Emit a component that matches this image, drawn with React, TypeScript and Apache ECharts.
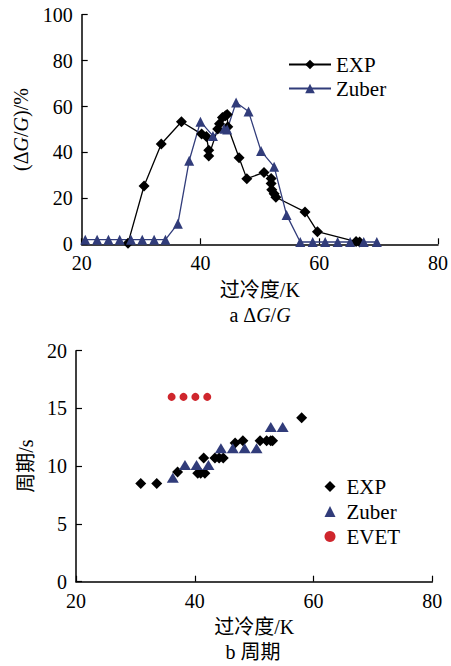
import React, { useEffect, useRef } from "react";
import * as echarts from "echarts";

const FONT = "Liberation Serif, Noto Sans CJK SC, serif";

// Top panel: ΔG/G (%) vs subcooling (K)
const topExp: [number, number][] = [
  [27.8, 0.5], [30.5, 25.4], [33.4, 43.7], [36.8, 53.4], [40.2, 48.0], [41.0, 47.0],
  [41.4, 41.0], [41.4, 38.5], [42.9, 50.2], [43.2, 52.5], [43.7, 55.2], [44.2, 56.0],
  [44.5, 56.5], [44.6, 51.2], [46.5, 37.7], [47.8, 28.6], [50.7, 31.3], [51.9, 28.7],
  [51.9, 26.5], [52.0, 23.8], [52.4, 22.0], [52.7, 20.5], [57.6, 14.1], [59.7, 5.5],
  [66.2, 1.2], [66.8, 1.0],
];
const topZuber: [number, number][] = [
  [20.6, 2], [22.6, 2], [24.5, 2], [26.4, 2], [28.3, 2], [30.2, 2], [32.2, 2], [34.1, 2],
  [36.2, 9], [38.1, 36.4], [40.0, 53.4], [42.1, 47.2], [44.0, 50.3], [44.5, 50.0],
  [46.0, 61.8], [48.1, 57.8], [50.2, 40.6], [52.4, 33.8], [54.5, 12.8], [56.8, 1],
  [58.9, 1], [61.0, 1], [63.1, 1], [65.2, 1], [67.5, 1], [69.7, 1],
];

// Bottom panel: period (s) vs subcooling (K)
const botExp: [number, number][] = [
  [30.9, 8.5], [33.6, 8.5], [37.1, 9.5], [40.5, 9.4], [41.0, 9.4], [41.7, 9.4],
  [41.5, 10.7], [43.4, 10.7], [44.1, 10.7], [44.8, 10.7], [46.8, 12.0], [48.1, 12.2],
  [51.0, 12.2], [52.1, 12.2], [52.8, 12.2], [53.1, 12.2], [58.0, 14.2],
];
const botZuber: [number, number][] = [
  [36.3, 9.0], [38.35, 10.1], [40.3, 10.1], [42.3, 10.1], [44.4, 11.55], [46.4, 11.55],
  [48.4, 11.55], [50.4, 11.55], [52.8, 13.4], [54.8, 13.4],
];
const botEvet: [number, number][] = [
  [36.1, 16], [38.1, 16], [40.1, 16], [42.1, 16],
];

const xName = "过冷度/K";
const topYName = "(Δ{i|G}/{i|G})/%";
const botYName = "周期/s";
const captionA = "{n|a Δ}{i|G}{n|/}{i|G}";
const captionB = "b 周期";

const NAVY = "#313c7a";
const RED = "#cf262d";

export default function App() {
  const ref = useRef<HTMLDivElement>(null);
  useEffect(() => {
    document.body.style.margin = "0";
    const chart = echarts.init(ref.current!, undefined, { renderer: "svg" });
    const axisCommon = {
      axisLine: { lineStyle: { color: "#000", width: 1.5 } },
      axisTick: { inside: true, length: 6, lineStyle: { color: "#000", width: 1.2 } },
      axisLabel: { color: "#000", fontFamily: FONT, fontSize: 20, margin: 9 },
      splitLine: { show: false },
      nameTextStyle: {
        color: "#000", fontFamily: FONT, fontSize: 20,
        rich: { i: { fontStyle: "italic", fontFamily: FONT, fontSize: 20, color: "#000" } },
      },
    };
    chart.setOption({
      animation: false,
      backgroundColor: "#fff",
      textStyle: { fontFamily: FONT },
      grid: [
        { left: 81.7, top: 14.7, width: 357.3, height: 229.6 },
        { left: 76, top: 350.7, width: 356.3, height: 231 },
      ],
      xAxis: [
        { ...axisCommon, type: "value", gridIndex: 0, min: 20, max: 80, interval: 20,
          name: xName, nameLocation: "middle", nameGap: 36 },
        { ...axisCommon, type: "value", gridIndex: 1, min: 20, max: 80, interval: 20,
          name: xName, nameLocation: "middle", nameGap: 35 },
      ],
      yAxis: [
        { ...axisCommon, type: "value", gridIndex: 0, min: 0, max: 100, interval: 20,
          name: topYName, nameLocation: "middle", nameGap: 51 },
        { ...axisCommon, type: "value", gridIndex: 1, min: 0, max: 20, interval: 5,
          name: botYName, nameLocation: "middle", nameGap: 40 },
      ],
      legend: [
        {
          data: ["EXP", "Zuber"], orient: "vertical", left: 283, top: 49,
          itemWidth: 42, itemHeight: 12, itemGap: 3,
          textStyle: { fontFamily: FONT, fontSize: 21, lineHeight: 21, color: "#000" },
        },
        {
          data: [
            { name: "EXP " },
            { name: "Zuber " },
            { name: "EVET" },
          ],
          orient: "vertical", left: 319.5, top: 471,
          itemWidth: 11, itemHeight: 11, itemGap: 4,
          formatter: (n: string) => n.trim(),
          textStyle: { fontFamily: FONT, fontSize: 21, lineHeight: 21, color: "#000", padding: [0, 0, 0, 6] },
        },
      ],
      series: [
        {
          name: "EXP", type: "line", xAxisIndex: 0, yAxisIndex: 0, data: topExp,
          symbol: "diamond", symbolSize: 11, color: "#000",
          lineStyle: { color: "#000", width: 1.3 }, itemStyle: { color: "#000" },
        },
        {
          name: "Zuber", type: "line", xAxisIndex: 0, yAxisIndex: 0, data: topZuber,
          symbol: "triangle", symbolSize: 10, color: NAVY,
          lineStyle: { color: NAVY, width: 1.3 }, itemStyle: { color: NAVY },
        },
        {
          name: "EXP ", type: "scatter", xAxisIndex: 1, yAxisIndex: 1, data: botExp,
          symbol: "diamond", symbolSize: 11, itemStyle: { color: "#000", opacity: 1 },
        },
        {
          name: "Zuber ", type: "scatter", xAxisIndex: 1, yAxisIndex: 1, data: botZuber,
          symbol: "triangle", symbolSize: [12, 10], itemStyle: { color: NAVY, opacity: 1 },
        },
        {
          name: "EVET", type: "scatter", xAxisIndex: 1, yAxisIndex: 1, data: botEvet,
          symbol: "circle", symbolSize: 8, itemStyle: { color: RED, opacity: 1 },
        },
      ],
      graphic: [
        {
          type: "text", x: 260, y: 315,
          style: {
            text: captionA, align: "center", verticalAlign: "middle",
            fontFamily: FONT, fontSize: 20, fill: "#000",
            rich: {
              n: { fontFamily: FONT, fontSize: 20, fill: "#000" },
              i: { fontFamily: FONT, fontSize: 20, fontStyle: "italic", fill: "#000" },
            },
          },
        },
        {
          type: "text", x: 253, y: 652,
          style: {
            text: captionB, align: "center", verticalAlign: "middle",
            fontFamily: FONT, fontSize: 20, fill: "#000",
          },
        },
      ],
    });
    return () => chart.dispose();
  }, []);
  return <div ref={ref} style={{ width: 451, height: 666 }} />;
}
